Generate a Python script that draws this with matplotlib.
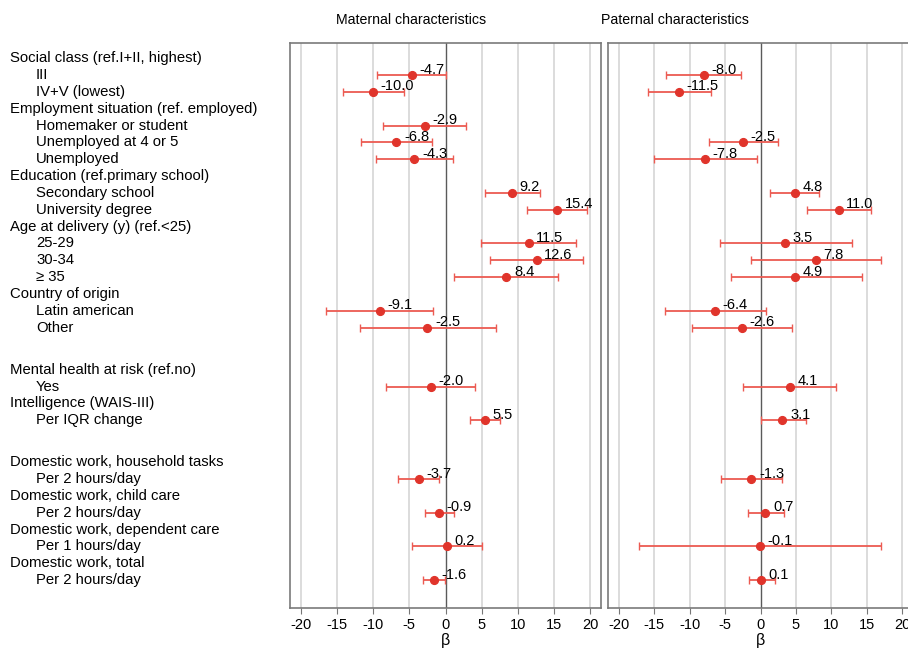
import numpy as np
import matplotlib
matplotlib.use("Agg")
import matplotlib.pyplot as plt
import matplotlib.transforms as mtransforms

plt.rcParams['font.family'] = ['Liberation Sans', 'DejaVu Sans']
plt.rcParams['axes.unicode_minus'] = False

# Row labels: (group header, items)
groups = [
    ("Social class (ref.I+II, highest)", ["III", "IV+V (lowest)"]),
    ("Employment situation (ref. employed)", ["Homemaker or student", "Unemployed at 4 or 5", "Unemployed"]),
    ("Education (ref.primary school)", ["Secondary school", "University degree"]),
    ("Age at delivery (y) (ref.<25)", ["25-29", "30-34", "\u2265 35"]),
    ("Country of origin", ["Latin american", "Other"]),
    ("Mental health at risk (ref.no)", ["Yes"]),
    ("Intelligence (WAIS-III)", ["Per IQR change"]),
    ("Domestic work, household tasks", ["Per 2 hours/day"]),
    ("Domestic work, child care", ["Per 2 hours/day"]),
    ("Domestic work, dependent care", ["Per 1 hours/day"]),
    ("Domestic work, total", ["Per 2 hours/day"]),
]

# Maternal estimates and 95% CI
mat_est = [-4.7, -10.0, -2.9, -6.8, -4.3, 9.2, 15.4, 11.5, 12.6, 8.4, -9.1, -2.5, -2.0, 5.5, -3.7, -0.9, 0.2, -1.6]
mat_lo = [-9.5, -14.2, -8.7, -11.7, -9.6, 5.5, 11.3, 4.9, 6.1, 1.2, -16.5, -11.8, -8.2, 3.4, -6.5, -2.9, -4.6, -3.1]
mat_hi = [0.0, -5.8, 2.8, -1.9, 1.0, 13.0, 19.5, 18.0, 19.0, 15.5, -1.7, 7.0, 4.1, 7.6, -0.9, 1.2, 5.0, -0.1]

# Paternal estimates and 95% CI (no homemaker category)
pat_est = [-8.0, -11.5, np.nan, -2.5, -7.8, 4.8, 11.0, 3.5, 7.8, 4.9, -6.4, -2.6, 4.1, 3.1, -1.3, 0.7, -0.1, 0.1]
pat_lo = [-13.3, -15.9, np.nan, -7.3, -15.0, 1.3, 6.5, -5.7, -1.3, -4.2, -13.5, -9.6, -2.5, 0.0, -5.6, -1.7, -17.2, -1.6]
pat_hi = [-2.7, -7.0, np.nan, 2.5, -0.5, 8.3, 15.6, 12.9, 17.0, 14.3, 0.8, 4.5, 10.7, 6.4, 3.1, 3.3, 17.0, 2.0]

titles = ["Maternal characteristics", "Paternal characteristics"]
xticks = [-20, -15, -10, -5, 0, 5, 10, 15, 20]

# layout: row positions, with extra space before some groups
extra_gap = {5: 1.5, 7: 1.5}
header_rows, item_rows, header_text, item_text = [], [], [], []
pos = 0.0
for gi, (head, items) in enumerate(groups):
    pos += extra_gap.get(gi, 0)
    header_rows.append(pos)
    header_text.append(head)
    pos += 1
    for it in items:
        item_rows.append(pos)
        item_text.append(it)
        pos += 1
item_rows = np.array(item_rows)

W, H = 908, 649
fig = plt.figure(figsize=(W / 100, H / 100), dpi=100)

red_dot = '#e0342b'
red_line = '#ec5b52'
fs = 10.5

panels = [
    (290, 601, mat_est, mat_lo, mat_hi, 411),
    (608, 913, pat_est, pat_lo, pat_hi, 675),
]
axes = []
for (x0, x1, est, lo, hi, title_x), title in zip(panels, titles):
    ax = fig.add_axes([x0 / W, (H - 608) / H, (x1 - x0) / W, (608 - 42.7) / H])
    axes.append(ax)
    ax.set_xlim(-21.5, 21.5)
    ax.set_ylim(32.66, -0.93)
    for t in xticks:
        if t == 0:
            ax.axvline(0, color='#5a5a5a', lw=1.0, zorder=1)
        else:
            ax.axvline(t, color='#dcdcdc', lw=1.4, zorder=0)
    est = np.array(est)
    lo = np.array(lo)
    hi = np.array(hi)
    ok = ~np.isnan(est)
    ax.errorbar(est[ok], item_rows[ok], xerr=[est[ok] - lo[ok], hi[ok] - est[ok]],
                fmt='none', ecolor=red_line, elinewidth=1.3, capsize=3.2, capthick=1.0, zorder=2)
    ax.plot(est[ok], item_rows[ok], 'o', color=red_dot, markersize=5.6, zorder=3)
    for e, y in zip(est[ok], item_rows[ok]):
        ax.annotate("%.1f" % e, (e, y), xytext=(5.5, 4), textcoords='offset points',
                    ha='left', va='center', fontsize=fs, color='black', zorder=4)
    ax.set_xticks(xticks)
    ax.set_xticklabels([str(t) for t in xticks], fontsize=fs)
    ax.set_yticks([])
    ax.tick_params(axis='x', length=4, width=0.8, color='#777777', pad=3)
    for s in ax.spines.values():
        s.set_color('#7a7a7a')
        s.set_linewidth(1.2)
    ax.set_xlabel("\u03b2", fontsize=fs + 1, labelpad=1)
    fig.text(title_x / W, 1 - 20 / H, title, ha='center', va='center', fontsize=10.2)

# row labels on the left
trans = mtransforms.blended_transform_factory(fig.transFigure, axes[0].transData)
for y, t in zip(header_rows, header_text):
    fig.text(9.5 / W, y, t, transform=trans, ha='left', va='center', fontsize=10.7)
for y, t in zip(item_rows, item_text):
    fig.text(36 / W, y, t, transform=trans, ha='left', va='center', fontsize=10.7)

fig.savefig("out.png", dpi=100)
